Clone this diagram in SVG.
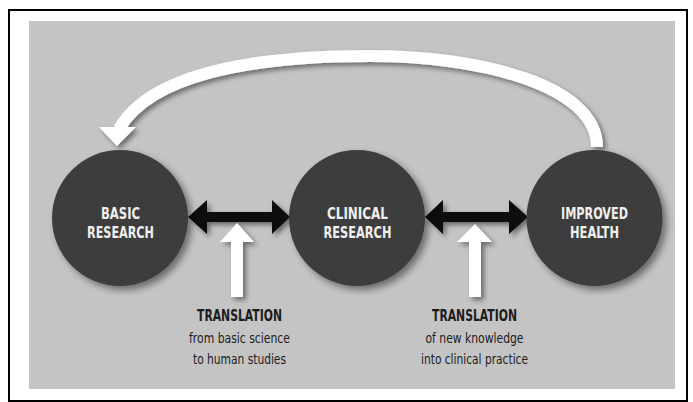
<svg xmlns="http://www.w3.org/2000/svg" width="693" height="402" viewBox="0 0 693 402">
<defs>
<filter id="sh" x="-30%" y="-30%" width="160%" height="160%">
<feDropShadow dx="4" dy="4" stdDeviation="3.5" flood-color="#000" flood-opacity="0.45"/>
</filter>
<filter id="sh2" x="-30%" y="-30%" width="160%" height="160%">
<feDropShadow dx="3" dy="3" stdDeviation="2.5" flood-color="#000" flood-opacity="0.45"/>
</filter>
</defs>
<style>
.node{fill:#3c3c3c;filter:url(#sh)}
.nt{font-family:"DejaVu Sans Condensed","Liberation Sans",sans-serif;font-weight:bold;font-size:15.5px;fill:#efefef;text-anchor:middle}
.lt{font-family:"DejaVu Sans Condensed","Liberation Sans",sans-serif;font-weight:bold;font-size:15.5px;fill:#1c1c1c;text-anchor:middle}
.st{font-family:"DejaVu Sans Condensed","Liberation Sans",sans-serif;font-size:14.5px;fill:#1c1c1c;text-anchor:middle}
.blk{fill:#0a0a0a;filter:url(#sh2)}
.wht{fill:#ffffff;filter:url(#sh2)}
</style>
<rect x="0" y="0" width="693" height="402" fill="#ffffff"/>
<rect x="9" y="10" width="678" height="391" fill="none" stroke="#000" stroke-width="2"/>
<rect x="29" y="21" width="646" height="368" fill="#c4c4c4"/>

<g id="connectors">
<g filter="url(#sh2)">
<path d="M597,147 C597,85 480,56 370,56 C250,56 150,75 119,129" fill="none" stroke="#fff" stroke-width="12"/>
<polygon points="99,127 136,127 117,146" fill="#fff"/>
</g>
<polygon class="blk" points="188,217 207,200 207,212 272,212 272,200 290,217 272,234 272,222 207,222 207,234"/>
<polygon class="blk" points="425,217 443,200 443,212 509,212 509,200 528,217 509,234 509,222 443,222 443,234"/>
<polygon class="wht" points="237,223 254,242 243,242 243,297 231,297 231,242 220,242"/>
<polygon class="wht" points="475,224 492,242 481,242 481,297 469,297 469,242 457,242"/>
</g>

<g id="basic">
<circle class="node" cx="120" cy="218" r="68"/>
<text class="nt" x="120.5" y="219" textLength="39" lengthAdjust="spacingAndGlyphs">BASIC</text>
<text class="nt" x="120.5" y="238" textLength="67" lengthAdjust="spacingAndGlyphs">RESEARCH</text>
</g>
<g id="clinical">
<circle class="node" cx="357" cy="218" r="68"/>
<text class="nt" x="357.5" y="219" textLength="61" lengthAdjust="spacingAndGlyphs">CLINICAL</text>
<text class="nt" x="357.5" y="238" textLength="68" lengthAdjust="spacingAndGlyphs">RESEARCH</text>
</g>
<g id="improved">
<circle class="node" cx="594.5" cy="218" r="68"/>
<text class="nt" x="594.5" y="219" textLength="67" lengthAdjust="spacingAndGlyphs">IMPROVED</text>
<text class="nt" x="594.5" y="238" textLength="49" lengthAdjust="spacingAndGlyphs">HEALTH</text>
</g>

<g id="translation1">
<text class="lt" x="239.5" y="321" textLength="85" lengthAdjust="spacingAndGlyphs">TRANSLATION</text>
<text class="st" x="239.5" y="343" textLength="101" lengthAdjust="spacingAndGlyphs">from basic science</text>
<text class="st" x="239.5" y="364" textLength="93" lengthAdjust="spacingAndGlyphs">to human studies</text>
</g>
<g id="translation2">
<text class="lt" x="474.5" y="321" textLength="85" lengthAdjust="spacingAndGlyphs">TRANSLATION</text>
<text class="st" x="474.5" y="343" textLength="98" lengthAdjust="spacingAndGlyphs">of new knowledge</text>
<text class="st" x="474.5" y="364" textLength="107" lengthAdjust="spacingAndGlyphs">into clinical practice</text>
</g>
</svg>
